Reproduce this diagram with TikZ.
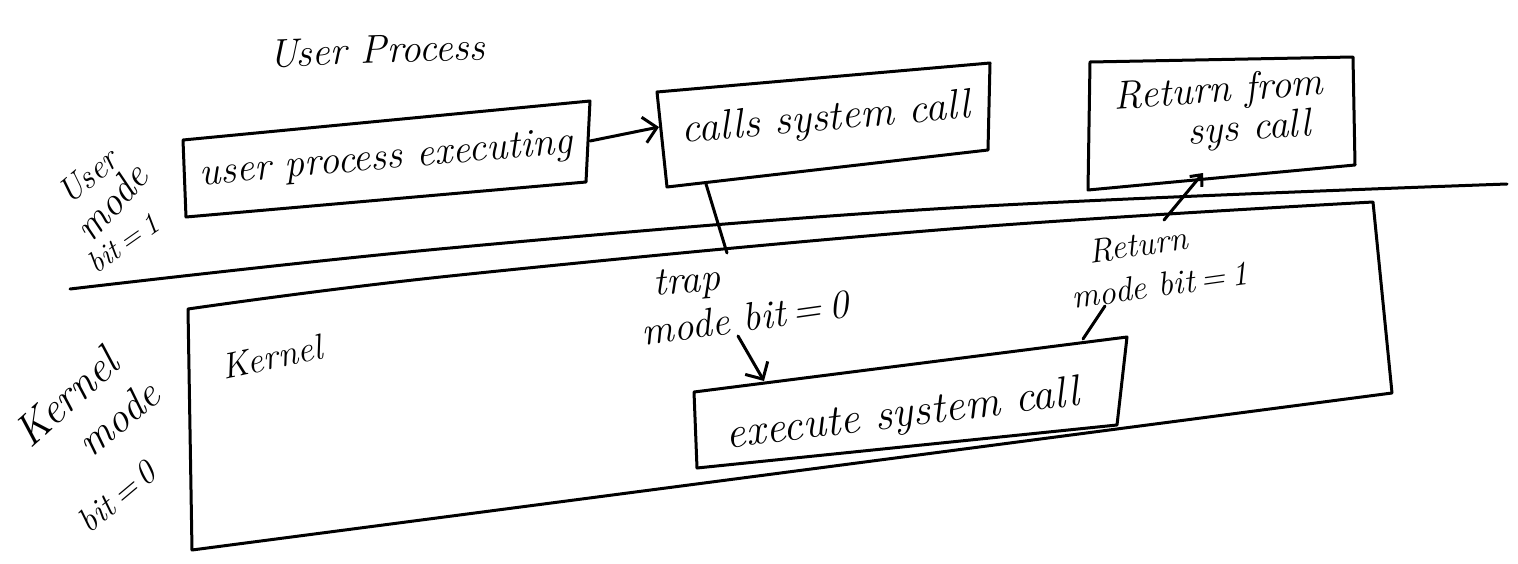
\documentclass[tikz,border=0pt]{standalone}
\usetikzlibrary{arrows.meta}
\begin{document}
\begin{tikzpicture}[x=1pt,y=-1pt,
  ink/.style={line width=3pt, line cap=round, line join=round},
  tip/.style={-{Straight Barb[length=13pt,width=26pt,line width=3pt]}},
  smalltip/.style={-{Straight Barb[length=9pt,width=16pt,line width=3pt]}},
  hand/.style={font=\fontsize{40}{44}\selectfont\itshape, inner sep=0pt},
  side/.style={font=\fontsize{34}{38}\selectfont\itshape, inner sep=0pt}]
\useasboundingbox (0,0) rectangle (1518,563);

% ---- corner points of the hand-drawn boxes ----
\coordinate (a1) at (183,140); \coordinate (a2) at (590,101);
\coordinate (a3) at (586,182); \coordinate (a4) at (186,217);
\coordinate (b1) at (657,92);  \coordinate (b2) at (990,63);
\coordinate (b3) at (988,150); \coordinate (b4) at (667,187);
\coordinate (c1) at (1090,62); \coordinate (c2) at (1353,57);
\coordinate (c3) at (1355,165); \coordinate (c4) at (1088,190);
\coordinate (d1) at (694,392); \coordinate (d2) at (1127,337);
\coordinate (d3) at (1117,425); \coordinate (d4) at (697,468);
\coordinate (k1) at (188,309); \coordinate (k2) at (1373,202);
\coordinate (k3) at (1392,393); \coordinate (k4) at (192,550);

% ---- boxes ----
\draw[ink] (a1) -- (a2) -- (a3) -- (a4) -- cycle;
\draw[ink] (b1) -- (b2) -- (b3) -- (b4) -- cycle;
\draw[ink] (c1) -- (c2) -- (c3) -- (c4) -- cycle;
\draw[ink] (d1) -- (d2) -- (d3) -- (d4) -- cycle;
\draw[ink] plot[smooth, tension=0.6] coordinates {(k1) (450,276) (950,229) (k2)}
  -- (k3) -- (k4) -- cycle;

% ---- user / kernel separator ----
\coordinate (s1) at (70,289);
\coordinate (s2) at (1507,184);
\draw[ink] plot[smooth, tension=0.6] coordinates {(s1) (450,248) (950,208) (s2)};

% ---- texts ----
\node[hand, rotate=2] (title) at (377,50) {User Process};
\node[hand, rotate=5] (ta) at (386,160) {user process executing};
\node[hand, rotate=5, font=\fontsize{42}{46}\selectfont\itshape] (tb) at (826,120) {calls system call};
\node[hand, rotate=4, align=center] (tc) at (1220,112) {Return from\\[-4pt]\hspace*{1.4em}sys call};
\node[hand, rotate=7, font=\fontsize{44}{48}\selectfont\itshape] (td) at (903,416) {execute system call};
\node[side, rotate=12, font=\fontsize{36}{40}\selectfont\itshape] (tk) at (272,357) {Kernel};

\node[side, rotate=40] (um1) at (88,176) {User};
\node[side, rotate=48, font=\fontsize{40}{44}\selectfont\itshape] (um2) at (111,202) {mode};
\node[side, rotate=35, font=\fontsize{30}{34}\selectfont\itshape] (um3) at (123,243) {bit\,=\,1};

\node[side, rotate=42, font=\fontsize{44}{48}\selectfont\itshape] (km1) at (66,397) {Kernel};
\node[side, rotate=40, font=\fontsize{42}{46}\selectfont\itshape] (km2) at (118,418) {mode};
\node[side, rotate=40] (km3) at (117,497) {bit\,=\,0};

\node[side, rotate=5, font=\fontsize{40}{44}\selectfont\itshape] (trap1) at (687,284) {trap};
\node[side, rotate=8, font=\fontsize{40}{44}\selectfont\itshape] (trap2) at (745,318) {mode bit\,=\,0};
\node[side, rotate=8] (ret1) at (1138,245) {Return};
\node[side, rotate=8] (ret2) at (1160,285) {mode bit\,=\,1};

% ---- connectors ----
\coordinate (aout) at (590,141);
\coordinate (bin)  at (659,127);
\draw[ink, tip] (aout) -- (bin);

\coordinate (bout) at (706,184);
\coordinate (trapend) at (727,253);
\draw[ink] (bout) -- (trapend);

\coordinate (trapstart) at (738,336);
\coordinate (din) at (764,381);
\draw[ink, tip] (trapstart) -- (din);

\coordinate (dout) at (1083,339);
\coordinate (retlbl) at (1105,306);
\draw[ink] (dout) -- (retlbl);

\coordinate (retstart) at (1164,220);
\coordinate (cin) at (1203,173);
\draw[ink, smalltip] (retstart) -- (cin);
\end{tikzpicture}
\end{document}
